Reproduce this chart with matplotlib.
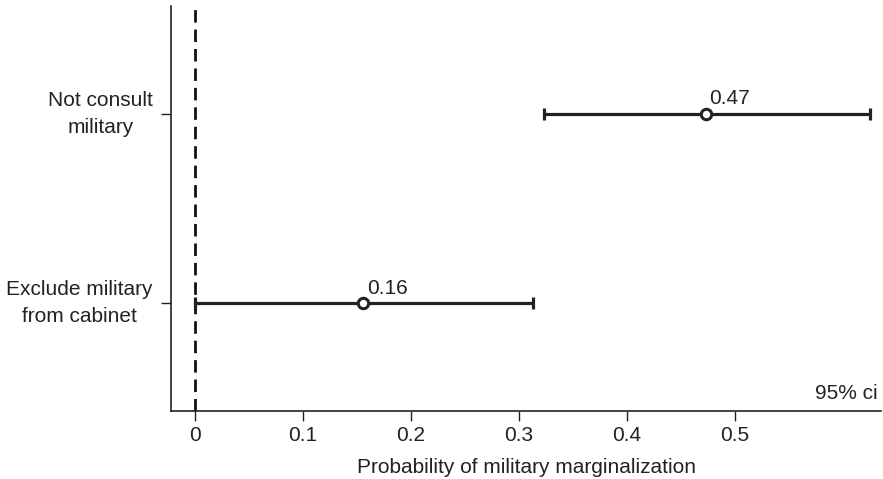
import matplotlib
matplotlib.use("Agg")
import matplotlib.pyplot as plt

categories = ["Exclude military\nfrom cabinet", "Not consult\nmilitary"]
estimates = [0.156, 0.473]
ci_low = [0.0, 0.323]
ci_high = [0.313, 0.625]
labels = ["0.16", "0.47"]
xticks = [0, 0.1, 0.2, 0.3, 0.4, 0.5]
xticklabels = ["0", "0.1", "0.2", "0.3", "0.4", "0.5"]

plt.rcParams['font.family'] = ["Liberation Sans", "DejaVu Sans"]
TXT = "#222222"

fig = plt.figure(figsize=(8.83, 4.79), dpi=100)
ax = fig.add_axes([0.1937, 0.142, 0.804, 0.845])

ypos = [1, 2]
ax.axvline(0, color="#111111", lw=2, ls=(0, (4.5, 2.5)), zorder=1)
for y, e, lo, hi, lab in zip(ypos, estimates, ci_low, ci_high, labels):
    ax.errorbar([e], [y], xerr=[[e - lo], [hi - e]], fmt="none", ecolor=TXT,
                elinewidth=2.3, capsize=4.5, capthick=2.3, zorder=2)
    ax.plot([e], [y], marker="o", ms=7.5, mfc="white", mec=TXT, mew=2.2, zorder=3)
    ax.annotate(lab, (e, y), xytext=(2.5, 4), textcoords="offset points",
                ha="left", va="bottom", fontsize=15, color=TXT)

ax.set_xlim(-0.022, 0.635)
ax.set_ylim(0.43, 2.57)
ax.set_yticks(ypos)
ax.set_yticklabels(categories, fontsize=15, ha="right", va="center",
                   multialignment="center", color=TXT, linespacing=1.5)
ax.tick_params(axis="y", pad=6, length=7, width=1, color=TXT)
ax.set_xticks(xticks)
ax.set_xticklabels(xticklabels, fontsize=15, color=TXT)
ax.tick_params(axis="x", length=7, width=1, color=TXT, pad=4)
ax.set_xlabel("Probability of military marginalization", fontsize=15,
              color=TXT, labelpad=9)

for s in ["top", "right"]:
    ax.spines[s].set_visible(False)
for s in ["left", "bottom"]:
    ax.spines[s].set_linewidth(1.2)
    ax.spines[s].set_color(TXT)

ax.text(0.995, 0.02, "95% ci", transform=ax.transAxes, ha="right", va="bottom",
        fontsize=15, color=TXT)

fig.savefig("out.png", dpi=100)
